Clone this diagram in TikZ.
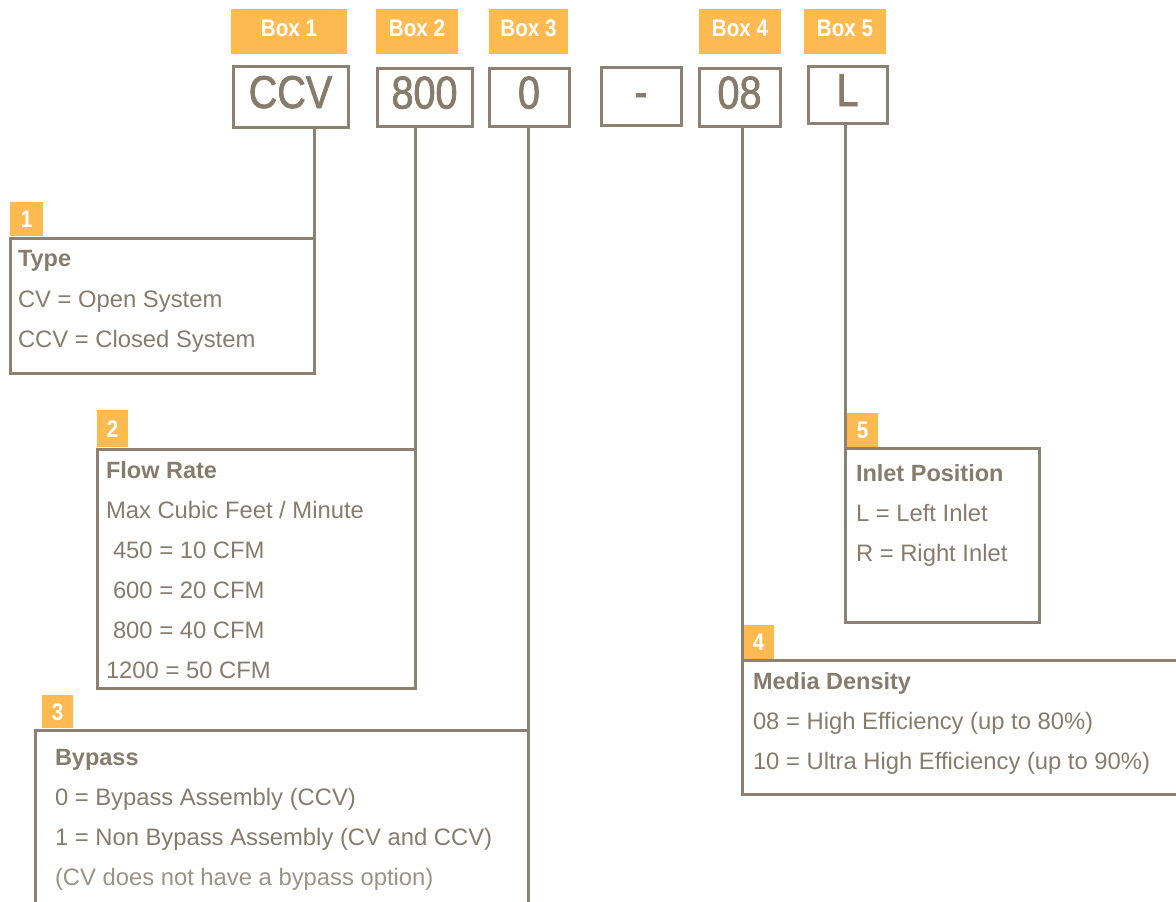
\documentclass[tikz,border=0pt]{standalone}
\usepackage{fontspec}
\setmainfont{Liberation Sans}
\newfontfamily\dinfont{Liberation Sans}[FakeStretch=0.86]
\newfontfamily\dinmed{Liberation Sans}[FakeStretch=0.86, FakeBold=1.6]
\definecolor{orng}{HTML}{FDBA51}
\definecolor{txtc}{HTML}{877B6C}
\definecolor{lightc}{HTML}{9C9286}
\definecolor{linec}{HTML}{8C8172}
\tikzset{
  rbox/.style={inner sep=0pt, outer sep=0pt},
  lbl/.style={rbox, fill=orng, text=white, font=\dinfont\bfseries\fontsize{24}{24}\selectfont, text height=17pt, text depth=7pt},
  badge/.style={rbox, fill=orng, text=white, font=\dinfont\bfseries\fontsize{24}{24}\selectfont, text height=17pt, text depth=0pt},
  codebox/.style={rbox, draw=linec, line width=3pt, fill=white, text=txtc, font=\dinmed\fontsize{46}{46}\selectfont, text height=33pt, text depth=10pt},
  descbox/.style={rbox, draw=linec, line width=3pt},
  txt/.style={inner sep=0pt, outer sep=0pt, anchor=base west, text=txtc, font=\fontsize{23.8}{28}\selectfont},
  hdr/.style={txt, font=\bfseries\fontsize{23.5}{28}\selectfont},
  conn/.style={draw=linec, line width=3pt},
}
\newcommand{\mkrect}[7]{\node[#1, anchor=north west, minimum width={(#5-#3)*1pt}, minimum height={(#6-#4)*1pt}] (#2) at (#3,#4) {#7};}
\begin{document}
\begin{tikzpicture}[x=1pt,y=-1pt]
\path[use as bounding box] (0,0) rectangle (1176,902);
\clip (0,0) rectangle (1176,902);
% top labels
\mkrect{lbl}{lb1}{231}{9}{347}{54}{Box 1}
\mkrect{lbl}{lb2}{376}{9}{458}{54}{Box 2}
\mkrect{lbl}{lb3}{489}{9}{568}{54}{Box 3}
\mkrect{lbl}{lb4}{699}{9}{781}{54}{Box 4}
\mkrect{lbl}{lb5}{804}{9}{886}{54}{Box 5}
% code boxes
\mkrect{codebox}{ccv}{233}{66}{348}{127}{CCV}
\mkrect{codebox}{c800}{377}{68}{472}{126}{800}
\mkrect{codebox}{c0}{489}{68}{569}{126}{0}
\mkrect{codebox}{cdash}{601}{67}{681}{125}{-}
\mkrect{codebox}{c08}{699}{68}{780}{126}{08}
\mkrect{codebox}{cL}{808}{66}{887}{123}{L}
% description boxes
\mkrect{descbox}{type}{10}{238}{314}{373}{}
\mkrect{descbox}{flow}{97}{449}{415}{688}{}
\mkrect{descbox}{bypass}{35}{730}{528}{930}{}
\mkrect{descbox}{inlet}{845}{448}{1039}{622}{}
\mkrect{descbox}{media}{742}{660}{1200}{794}{}
% badges
\mkrect{badge}{b1}{10}{202}{43}{236}{1}
\mkrect{badge}{b2}{97}{410}{128}{447}{2}
\mkrect{badge}{b3}{42}{695}{73}{728}{3}
\mkrect{badge}{b4}{743}{625}{774}{659}{4}
\mkrect{badge}{b5}{847}{413}{878}{447}{5}
% connectors
\draw[conn] (ccv.south -| type.north east) -- (type.north east);
\draw[conn] (c800.south -| flow.north east) -- (flow.north east);
\draw[conn] (c0.south -| bypass.north east) -- (bypass.north east);
\draw[conn] (c08.south -| media.north west) -- (media.north west);
\draw[conn] (cL.south -| inlet.north west) -- (inlet.north west);
% texts: Type
\node[hdr] (t1h) at (18,266) {Type};
\node[txt] (t1a) at (18,307) {CV = Open System};
\node[txt] (t1b) at (18,347) {CCV = Closed System};
% Flow rate
\node[hdr] (t2h) at (106,478) {Flow Rate};
\node[txt] (t2a) at (106,518) {Max Cubic Feet / Minute};
\node[txt] (t2b) at (113,558) {450 = 10 CFM};
\node[txt] (t2c) at (113,598) {600 = 20 CFM};
\node[txt] (t2d) at (113,638) {800 = 40 CFM};
\node[txt] (t2e) at (106,678) {1200 = 50 CFM};
% Bypass
\node[hdr] (t3h) at (55,765) {Bypass};
\node[txt] (t3a) at (55,805) {0 = Bypass Assembly (CCV)};
\node[txt] (t3b) at (55,845) {1 = Non Bypass Assembly (CV and CCV)};
\node[txt, text=lightc] (t3c) at (55,885) {(CV does not have a bypass option)};
% Inlet
\node[hdr] (t5h) at (856,481) {Inlet Position};
\node[txt] (t5a) at (856,521) {L = Left Inlet};
\node[txt] (t5b) at (856,561) {R = Right Inlet};
% Media
\node[hdr] (t4h) at (753,689) {Media Density};
\node[txt] (t4a) at (753,729) {08 = High Efficiency (up to 80\%)};
\node[txt] (t4b) at (753,769) {10 = Ultra High Efficiency (up to 90\%)};
\end{tikzpicture}
\end{document}
